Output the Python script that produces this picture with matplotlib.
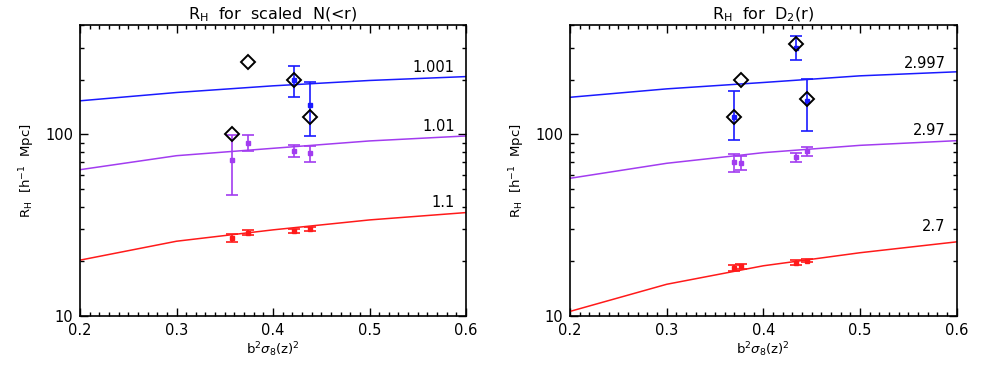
import numpy as np
import matplotlib
matplotlib.use("Agg")
import matplotlib.pyplot as plt
from matplotlib.ticker import FixedLocator, NullFormatter, MultipleLocator, FormatStrFormatter

# ---------------- data ----------------
x_model = [0.2, 0.3, 0.4, 0.5, 0.6]

# left panel: scaled N(<r)
left_blue_model = [153, 170, 185, 198, 208]
left_purple_model = [63.9, 76.3, 83.8, 92, 98]
left_red_model = [20.3, 25.8, 29.8, 33.8, 37.1]
left_labels = ["1.001", "1.01", "1.1"]

left_x = [0.3578, 0.3738, 0.4221, 0.4383]
left_diamond = [100, 250, 199, 125]
left_blue_x = [0.4221, 0.4383]
left_blue = [199, 145]
left_blue_lo = [160, 98.4]
left_blue_hi = [238, 193]
left_purple = [72.3, 90, 81.3, 78.7]
left_purple_lo = [46.4, 81.3, 75.1, 70.5]
left_purple_hi = [99.6, 99.5, 87.4, 86.6]
left_red = [26.8, 28.8, 29.4, 30.3]
left_red_lo = [25.5, 27.9, 28.5, 29.5]
left_red_hi = [28.2, 29.6, 30.1, 31.0]

# right panel: D2(r)
right_blue_model = [160, 178, 193, 210, 221]
right_purple_model = [57.3, 69.3, 79.3, 87, 92.3]
right_red_model = [10.6, 14.95, 18.9, 22.3, 25.6]
right_labels = ["2.997", "2.97", "2.7"]

right_x = [0.370, 0.3769, 0.4338, 0.4448]
right_diamond = [125, 199, 316, 157]
right_blue_x = [0.370, 0.4338, 0.4448]
right_blue = [125, 300, 153]
right_blue_lo = [93.5, 256, 104.8]
right_blue_hi = [173, 348, 201]
right_purple = [70.2, 69.6, 74.8, 81.0]
right_purple_lo = [62.3, 63.7, 70.2, 76.3]
right_purple_hi = [78, 76.3, 78.7, 85.2]
right_red = [18.4, 18.9, 19.7, 20.2]
right_red_lo = [17.8, 18.2, 19.0, 19.8]
right_red_hi = [19.0, 19.4, 20.3, 20.7]

BLUE = "#1a1aff"
PURPLE = "#a23cf0"
RED = "#ff1a1a"

plt.rcParams['font.family'] = ['DejaVu Sans']
plt.rcParams['mathtext.fontset'] = 'dejavusans'

fig = plt.figure(figsize=(9.81, 3.68), dpi=100)
ax1 = fig.add_axes([80/981, 1-316/368, 386/981, 291/368])
ax2 = fig.add_axes([570/981, 1-316/368, 386.7/981, 291/368])


def errs(y, lo, hi):
    y = np.asarray(y, float)
    return [y - np.asarray(lo, float), np.asarray(hi, float) - y]


def panel(ax, title, models, labels, label_y, xs, diamonds,
          bx, by, blo, bhi, py, plo, phi, ry, rlo, rhi):
    colors = [BLUE, PURPLE, RED]
    for m, c in zip(models, colors):
        ax.plot(x_model, m, color=c, lw=1.1, zorder=2)
    for lab, ly in zip(labels, label_y):
        ax.text(0.5885, ly, lab, ha='right', va='center', fontsize=10.5, color='black')
    ekw = dict(fmt='s', ms=2.2, capsize=4, elinewidth=1.2, capthick=1.2, zorder=3)
    ax.errorbar(bx, by, yerr=errs(by, blo, bhi), color=BLUE, **ekw)
    ax.errorbar(xs, py, yerr=errs(py, plo, phi), color=PURPLE, **ekw)
    ax.errorbar(xs, ry, yerr=errs(ry, rlo, rhi), color=RED, **ekw)
    ax.plot(xs, diamonds, linestyle='none', marker='D', ms=7.5, mfc='none',
            mec='black', mew=1.4, zorder=4)

    ax.set_yscale('log')
    ax.set_xlim(0.2, 0.6)
    ax.set_ylim(10, 400)
    ax.yaxis.set_major_locator(FixedLocator([10, 100]))
    ax.yaxis.set_major_formatter(FormatStrFormatter('%d'))
    ax.yaxis.set_minor_locator(FixedLocator([20, 30, 40, 50, 60, 70, 80, 90, 200, 300, 400]))
    ax.yaxis.set_minor_formatter(NullFormatter())
    ax.xaxis.set_major_locator(MultipleLocator(0.1))
    ax.xaxis.set_major_formatter(FormatStrFormatter('%.1f'))
    ax.xaxis.set_minor_locator(MultipleLocator(0.01))
    ax.tick_params(which='both', direction='in', top=True, right=True,
                   labelsize=10.5, width=1.0, pad=5)
    ax.tick_params(which='major', length=6)
    ax.tick_params(which='minor', length=3)
    for s in ax.spines.values():
        s.set_linewidth(1.2)
    ax.set_title(title, fontsize=11.5, pad=4)
    ax.set_ylabel(r'R$_\mathregular{H}$  [h$^{-1}$  Mpc]', fontsize=9.5, labelpad=6)
    ax.set_xlabel(r'b$^2\sigma_8$(z)$^2$', fontsize=9.5, labelpad=2)


panel(ax1, r'R$_\mathregular{H}$  for  scaled  N(<r)',
      [left_blue_model, left_purple_model, left_red_model], left_labels,
      [232, 110, 42.1], left_x, left_diamond,
      left_blue_x, left_blue, left_blue_lo, left_blue_hi,
      left_purple, left_purple_lo, left_purple_hi,
      left_red, left_red_lo, left_red_hi)

panel(ax2, r'R$_\mathregular{H}$  for  D$_2$(r)',
      [right_blue_model, right_purple_model, right_red_model], right_labels,
      [244, 104.8, 31.0], right_x, right_diamond,
      right_blue_x, right_blue, right_blue_lo, right_blue_hi,
      right_purple, right_purple_lo, right_purple_hi,
      right_red, right_red_lo, right_red_hi)

fig.savefig('out.png', dpi=100)
